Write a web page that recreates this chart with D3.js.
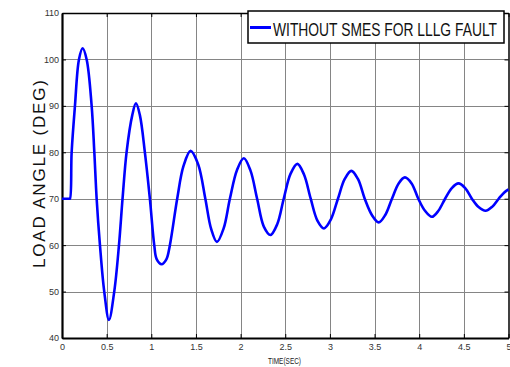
<!DOCTYPE html>
<html>
<head>
<meta charset="utf-8">
<script src="https://cdn.jsdelivr.net/npm/d3@7"></script>
<style>
  body { margin: 0; background: #fff; }
  svg { display: block; }
</style>
</head>
<body>
<script>
    // values (time in s, load angle in deg)
    let timeSec = [0, 0.08, 0.089, 0.108, 0.145, 0.19, 0.231, 0.276, 0.332, 0.362, 0.388, 0.425, 0.473, 0.526,
        0.585, 0.638, 0.678, 0.723, 0.787, 0.828, 0.872, 0.928, 0.984, 1.033, 1.06, 1.115, 1.17,
        1.208, 1.29, 1.36, 1.44, 1.525, 1.605, 1.67, 1.735, 1.81, 1.88, 1.96, 2.036, 2.11, 2.185,
        2.26, 2.334, 2.41, 2.483, 2.56, 2.636, 2.71, 2.785, 2.86, 2.934, 3.01, 3.09, 3.165, 3.24,
        3.315, 3.39, 3.47, 3.546, 3.62, 3.695, 3.77, 3.84, 3.915, 3.99, 4.065, 4.142, 4.215, 4.29,
        4.365, 4.44, 4.515, 4.59, 4.665, 4.743, 4.82, 4.89, 4.95, 5.0];
    let loadAngle = [70, 70, 70, 80, 90, 100, 102.4, 100, 90, 80, 70, 60, 50, 43.9,
        50, 60, 70, 80, 88, 90.55, 88, 80, 70, 60, 57, 55.9, 57,
        60, 70, 77, 80.3, 77.4, 70, 63.5, 60.7, 63.6, 70, 76.2, 78.7, 76.1, 70,
        64, 62.2, 64.5, 70, 75.4, 77.5, 75.2, 70, 65.3, 63.6, 65.5, 70, 74.2, 76.0,
        74.2, 70, 66.5, 64.9, 66.5, 70, 73.3, 74.6, 73.3, 70, 67.4, 66.1, 67.4, 70,
        72.3, 73.3, 72.3, 70, 68.2, 67.4, 68.3, 70, 71.3, 72.0];
    let xTicks = [0, 0.5, 1, 1.5, 2, 2.5, 3, 3.5, 4, 4.5, 5];
    let yTicks = [40, 50, 60, 70, 80, 90, 100, 110];
    let legendLabel = "WITHOUT SMES FOR LLLG FAULT";
    let yLabel = "LOAD ANGLE (DEG)";
    let xLabel = "TIME(SEC)";

    let width = 510;
    let height = 367;
    let plotLeft = 62, plotRight = 508.5, plotTop = 13, plotBottom = 338;
    let narrow = "'Liberation Sans Narrow','Arial Narrow','Liberation Sans',Arial,sans-serif";

    let svg = d3.select("body")
        .append("svg")
        .attr("width", width)
        .attr("height", height);

    let x = d3.scaleLinear().domain([0, 5]).range([plotLeft, plotRight]);
    let y = d3.scaleLinear().domain([40, 110]).range([plotBottom, plotTop]);

    // grid
    let grid = svg.append("g").attr("stroke", "#858585").attr("stroke-width", 1);
    grid.selectAll("line.gx")
        .data(xTicks.slice(1, -1))
        .enter().append("line")
        .attr("x1", d => Math.round(x(d)) + 0.5).attr("x2", d => Math.round(x(d)) + 0.5)
        .attr("y1", plotTop).attr("y2", plotBottom);
    grid.selectAll("line.gy")
        .data(yTicks.slice(1, -1))
        .enter().append("line")
        .attr("x1", plotLeft).attr("x2", plotRight)
        .attr("y1", d => Math.round(y(d)) + 0.5).attr("y2", d => Math.round(y(d)) + 0.5);

    // axes, MATLAB style ticks pointing inwards
    let xAxis = svg.append("g")
        .attr("transform", "translate(0," + plotBottom + ")")
        .call(d3.axisBottom(x).tickValues(xTicks).tickFormat(d3.format("")).tickSizeInner(-4).tickSizeOuter(0).tickPadding(6));
    let yAxis = svg.append("g")
        .attr("transform", "translate(" + plotLeft + ",0)")
        .call(d3.axisLeft(y).tickValues(yTicks).tickSizeInner(-4).tickSizeOuter(0).tickPadding(3));
    svg.append("g")
        .attr("transform", "translate(" + plotRight + ",0)")
        .call(d3.axisRight(y).tickValues(yTicks).tickFormat("").tickSizeInner(-4).tickSizeOuter(0));
    svg.append("g")
        .attr("transform", "translate(0," + plotTop + ")")
        .call(d3.axisTop(x).tickValues(xTicks).tickFormat("").tickSizeInner(-4).tickSizeOuter(0));

    svg.selectAll(".domain").attr("stroke", "#000").attr("stroke-width", 1.5);
    svg.selectAll(".tick line").attr("stroke", "#000");
    [xAxis, yAxis].forEach(function(g) {
        g.selectAll("text")
            .attr("fill", "#333")
            .style("font-family", narrow)
            .style("font-size", "9px");
    });
    xAxis.select(".domain").attr("stroke-width", 2.2);
    yAxis.select(".domain").attr("stroke-width", 2.2);

    // curve
    let line = d3.line()
        .x((d, i) => x(timeSec[i]))
        .y(d => y(d))
        .curve(d3.curveCatmullRom.alpha(0.5));
    svg.append("path")
        .datum(loadAngle)
        .attr("d", line)
        .attr("fill", "none")
        .attr("stroke", "#0000ff")
        .attr("stroke-width", 2.6)
        .attr("stroke-linejoin", "round");

    // legend
    let legend = svg.append("g");
    legend.append("rect")
        .attr("x", 248).attr("y", 11)
        .attr("width", 256).attr("height", 32)
        .attr("fill", "#fff").attr("stroke", "#000").attr("stroke-width", 1.5);
    legend.append("line")
        .attr("x1", 250).attr("x2", 271)
        .attr("y1", 27.5).attr("y2", 27.5)
        .attr("stroke", "#0000ff").attr("stroke-width", 3);
    legend.append("text")
        .attr("x", 273).attr("y", 36)
        .attr("textLength", 224)
        .attr("lengthAdjust", "spacingAndGlyphs")
        .style("font-family", "'Liberation Sans',Arial,sans-serif")
        .style("font-size", "19px")
        .attr("fill", "#111")
        .text(legendLabel);

    // axis titles
    svg.append("text")
        .attr("transform", "translate(44.5,174) rotate(-90)")
        .attr("text-anchor", "middle")
        .attr("textLength", 188)
        .attr("lengthAdjust", "spacing")
        .style("font-family", "'Liberation Sans',Arial,sans-serif")
        .style("font-size", "17px")
        .attr("fill", "#111")
        .text(yLabel);
    svg.append("text")
        .attr("x", 268).attr("y", 364)
        .attr("textLength", 33)
        .attr("lengthAdjust", "spacingAndGlyphs")
        .style("font-family", "'Liberation Sans',Arial,sans-serif")
        .style("font-size", "9px")
        .attr("fill", "#222")
        .text(xLabel);
</script>
</body>
</html>
